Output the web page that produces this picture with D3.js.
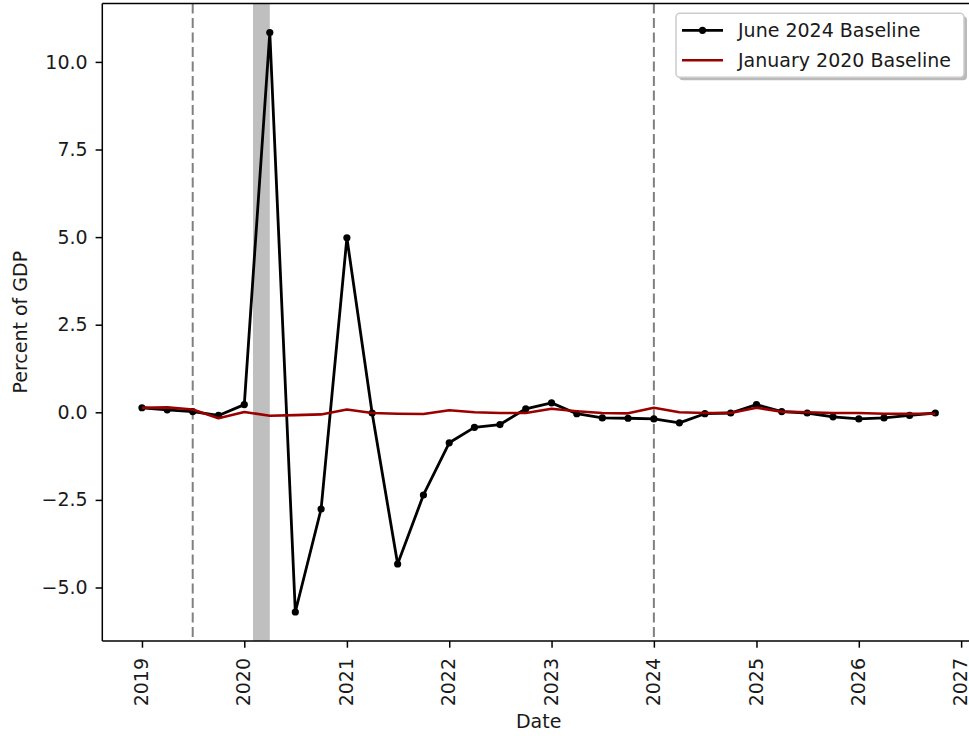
<!DOCTYPE html>
<html>
<head>
<meta charset="utf-8">
<script src="https://cdn.jsdelivr.net/npm/d3@7"></script>
<style>
  body { margin: 0; background: #fff; }
  text { font-family: "DejaVu Sans", sans-serif; }
</style>
</head>
<body>
<div id="chart"></div>
<script>
// quarterly dates, 2019Q1 - 2026Q4
var quarters = [
  "2019-01-01", "2019-04-01", "2019-07-01", "2019-10-01",
  "2020-01-01", "2020-04-01", "2020-07-01", "2020-10-01",
  "2021-01-01", "2021-04-01", "2021-07-01", "2021-10-01",
  "2022-01-01", "2022-04-01", "2022-07-01", "2022-10-01",
  "2023-01-01", "2023-04-01", "2023-07-01", "2023-10-01",
  "2024-01-01", "2024-04-01", "2024-07-01", "2024-10-01",
  "2025-01-01", "2025-04-01", "2025-07-01", "2025-10-01",
  "2026-01-01", "2026-04-01", "2026-07-01", "2026-10-01"
];

var june2024 = [
  0.13, 0.07, 0.02, -0.09,
  0.22, 10.84, -5.70, -2.76,
  4.98, -0.02, -4.33, -2.36,
  -0.87, -0.43, -0.35, 0.10,
  0.27, -0.04, -0.16, -0.17,
  -0.19, -0.30, -0.04, -0.02,
  0.22, 0.02, -0.02, -0.13,
  -0.19, -0.16, -0.09, -0.02
];

var jan2020 = [
  0.13, 0.14, 0.08, -0.17,
  0.01, -0.10, -0.08, -0.06,
  0.08, -0.02, -0.04, -0.05,
  0.06, 0.00, -0.02, -0.02,
  0.10, 0.03, -0.02, -0.03,
  0.13, 0.00, -0.02, -0.02,
  0.13, 0.02, 0.00, -0.02,
  -0.02, -0.04, -0.04, -0.04
];

var recession = ["2020-02-01", "2020-04-01"];
var markerDates = ["2019-07-01", "2024-01-01"];
var yTicks = [-5.0, -2.5, 0.0, 2.5, 5.0, 7.5, 10.0];
var xTicks = ["2019", "2020", "2021", "2022", "2023", "2024", "2025", "2026", "2027"];
var seriesNames = ["June 2024 Baseline", "January 2020 Baseline"];

var svgWidth = 969;
var svgHeight = 736;

var margin = { top: 3.5, left: 102.3 };
var plotRight = 975;
var plotBottom = 641;

var parseDate = d3.timeParse("%Y-%m-%d");
var dates = quarters.map(parseDate);

var svg = d3.select("#chart")
  .append("svg")
  .attr("width", svgWidth)
  .attr("height", svgHeight);

// matplotlib style 5% margins
var t0 = dates[0].getTime();
var t1 = dates[dates.length - 1].getTime();
var tPad = (t1 - t0) * 0.05;
var xScale = d3.scaleTime()
  .domain([new Date(t0 - tPad), new Date(t1 + tPad)])
  .range([margin.left, plotRight]);

var allVals = june2024.concat(jan2020);
var yMin = d3.min(allVals);
var yMax = d3.max(allVals);
var yPad = (yMax - yMin) * 0.05;
var yScale = d3.scaleLinear()
  .domain([yMin - yPad, yMax + yPad])
  .range([plotBottom, margin.top]);

// recession band
svg.append("rect")
  .attr("x", xScale(parseDate(recession[0])))
  .attr("y", margin.top)
  .attr("width", xScale(parseDate(recession[1])) - xScale(parseDate(recession[0])))
  .attr("height", plotBottom - margin.top)
  .attr("fill", "#bfbfbf");

// dashed vertical lines
svg.selectAll(".vline")
  .data(markerDates)
  .enter()
  .append("line")
  .attr("class", "vline")
  .attr("x1", d => xScale(parseDate(d)))
  .attr("x2", d => xScale(parseDate(d)))
  .attr("y1", margin.top)
  .attr("y2", plotBottom)
  .attr("stroke", "#808080")
  .attr("stroke-width", 2)
  .attr("stroke-dasharray", "10,4.5");

var line = d3.line()
  .x(d => xScale(d[0]))
  .y(d => yScale(d[1]));

var blackData = dates.map((d, i) => [d, june2024[i]]);
var redData = dates.map((d, i) => [d, jan2020[i]]);

svg.append("path")
  .datum(blackData)
  .attr("d", line)
  .attr("fill", "none")
  .attr("stroke", "#000")
  .attr("stroke-width", 2.8)
  .attr("stroke-linejoin", "round");

svg.selectAll(".dot")
  .data(blackData)
  .enter()
  .append("circle")
  .attr("class", "dot")
  .attr("cx", d => xScale(d[0]))
  .attr("cy", d => yScale(d[1]))
  .attr("r", 3.6)
  .attr("fill", "#000");

svg.append("path")
  .datum(redData)
  .attr("d", line)
  .attr("fill", "none")
  .attr("stroke", "#9b0000")
  .attr("stroke-width", 2.6)
  .attr("stroke-linejoin", "round");

// axes
var leftAxis = d3.axisLeft(yScale)
  .tickValues(yTicks)
  .tickFormat(d3.format(".1f"))
  .tickSize(6.7)
  .tickPadding(8);

var bottomAxis = d3.axisBottom(xScale)
  .tickValues(xTicks.map(d => parseDate(d + "-01-01")))
  .tickFormat(d3.timeFormat("%Y"))
  .tickSize(6.7)
  .tickPadding(6.7);

var yAxis = svg.append("g")
  .attr("transform", `translate(${margin.left}, 0)`)
  .call(leftAxis);

var xAxis = svg.append("g")
  .attr("transform", `translate(0, ${plotBottom})`)
  .call(bottomAxis);

[yAxis, xAxis].forEach(function(ax) {
  ax.select(".domain").remove();
  ax.selectAll(".tick line").attr("stroke", "#000").attr("stroke-width", 1.5);
  ax.selectAll(".tick text")
    .attr("fill", "#1a1a1a")
    .style("font-size", "19px");
});

xAxis.selectAll(".tick text")
  .attr("text-anchor", "end")
  .attr("y", 0)
  .attr("dy", "0.3em")
  .attr("transform", "translate(0, 17) rotate(-90)");

// spines
svg.append("line")
  .attr("x1", margin.left).attr("x2", margin.left)
  .attr("y1", margin.top).attr("y2", plotBottom)
  .attr("stroke", "#000").attr("stroke-width", 1.5);
svg.append("line")
  .attr("x1", margin.left).attr("x2", plotRight)
  .attr("y1", plotBottom).attr("y2", plotBottom)
  .attr("stroke", "#000").attr("stroke-width", 1.5);
svg.append("line")
  .attr("x1", margin.left).attr("x2", plotRight)
  .attr("y1", margin.top).attr("y2", margin.top)
  .attr("stroke", "#000").attr("stroke-width", 1.5);
svg.append("line")
  .attr("x1", plotRight).attr("x2", plotRight)
  .attr("y1", margin.top).attr("y2", plotBottom)
  .attr("stroke", "#000").attr("stroke-width", 1.5);

// axis labels
svg.append("text")
  .attr("x", (margin.left + plotRight) / 2)
  .attr("y", 728)
  .attr("text-anchor", "middle")
  .attr("fill", "#1a1a1a")
  .style("font-size", "19px")
  .text("Date");

svg.append("text")
  .attr("transform", `translate(27, ${(margin.top + plotBottom) / 2}) rotate(-90)`)
  .attr("text-anchor", "middle")
  .attr("fill", "#1a1a1a")
  .style("font-size", "19px")
  .text("Percent of GDP");

// legend
var legend = svg.append("g")
  .attr("transform", "translate(676, 13.3)");

legend.append("rect")
  .attr("x", 3).attr("y", 3)
  .attr("width", 288).attr("height", 64)
  .attr("rx", 4)
  .attr("fill", "#8c8c8c")
  .attr("opacity", 0.6);

legend.append("rect")
  .attr("width", 288).attr("height", 64)
  .attr("rx", 4)
  .attr("fill", "#fff")
  .attr("stroke", "#cccccc")
  .attr("stroke-width", 1.5);

var legendColors = ["#000", "#9b0000"];
seriesNames.forEach(function(name, i) {
  var ly = 17 + i * 30;
  legend.append("line")
    .attr("x1", 6).attr("x2", 47)
    .attr("y1", ly).attr("y2", ly)
    .attr("stroke", legendColors[i])
    .attr("stroke-width", i === 0 ? 2.8 : 2.6);
  if (i === 0) {
    legend.append("circle")
      .attr("cx", 26.5).attr("cy", ly)
      .attr("r", 3.6)
      .attr("fill", "#000");
  }
  legend.append("text")
    .attr("x", 62)
    .attr("y", ly)
    .attr("dy", "0.35em")
    .attr("fill", "#1a1a1a")
    .style("font-size", "19px")
    .text(name);
});
</script>
</body>
</html>
